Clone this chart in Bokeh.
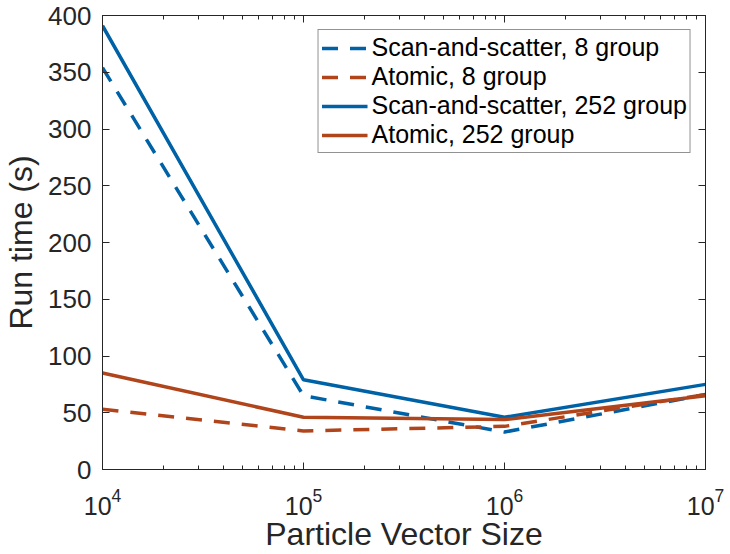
from bokeh.plotting import figure
from bokeh.models import (Range1d, FixedTicker, LogAxis, LinearAxis, Legend,
                          LegendItem, CustomJSTickFormatter)
from bokeh.embed import file_html
from bokeh.resources import INLINE

# ---- data ----
sizes = [1e4, 1e5, 1e6, 1e7]
scan_8 = [354, 65, 33, 66]
atomic_8 = [53, 34, 38, 66]
scan_252 = [391, 79, 46, 75]
atomic_252 = [85, 46, 44, 65]

labels = ["Scan-and-scatter, 8 group", "Atomic, 8 group",
          "Scan-and-scatter, 252 group", "Atomic, 252 group"]

y_ticks = [0, 50, 100, 150, 200, 250, 300, 350, 400]
x_major = [1e4, 1e5, 1e6, 1e7]
x_minor = [m * 10 ** e for e in range(4, 7) for m in range(2, 10)]

BLUE = "#0062A6"
RED = "#B0441A"
AX = "#262626"
FONT = "Liberation Sans"

p = figure(width=730, height=554, x_axis_type="log",
           x_range=Range1d(1e4, 1e7), y_range=Range1d(0, 400),
           output_backend="svg", toolbar_location=None,
           min_border_left=102, min_border_right=25,
           min_border_top=15, min_border_bottom=82)
p.background_fill_color = "white"
p.border_fill_color = "white"
p.outline_line_color = AX
p.outline_line_width = 1
p.xgrid.visible = False
p.ygrid.visible = False


def style(ax):
    ax.axis_line_color = AX
    ax.axis_line_width = 1
    ax.major_tick_line_color = AX
    ax.minor_tick_line_color = AX
    ax.major_tick_in = 7
    ax.major_tick_out = 0
    ax.minor_tick_in = 4
    ax.minor_tick_out = 0
    ax.major_label_text_font = FONT
    ax.major_label_text_color = AX
    ax.major_label_text_font_size = "25px"
    ax.axis_label_text_font = FONT
    ax.axis_label_text_font_style = "normal"
    ax.axis_label_text_color = AX
    ax.axis_label_text_font_size = "32px"


xa = p.xaxis[0]
xa.ticker = FixedTicker(ticks=x_major, minor_ticks=x_minor)
style(xa)
xa.major_label_standoff = 18
xa.axis_label = "Particle Vector Size"
xa.axis_label_standoff = -2

ya = p.yaxis[0]
ya.ticker = FixedTicker(ticks=y_ticks, minor_ticks=[])
style(ya)
ya.major_label_text_font_size = "26px"
ya.major_label_standoff = 11
ya.axis_label = "Run time (s)"
ya.axis_label_standoff = 6

top = LogAxis(ticker=FixedTicker(ticks=x_major, minor_ticks=x_minor),
              formatter=CustomJSTickFormatter(code="return '';"))
style(top)
top.major_label_text_font_size = "2px"
top.major_label_standoff = 0
p.add_layout(top, "above")

right = LinearAxis(ticker=FixedTicker(ticks=y_ticks, minor_ticks=[]),
                   formatter=CustomJSTickFormatter(code="return '';"))
style(right)
right.major_label_text_font_size = "2px"
right.major_label_standoff = 0
p.add_layout(right, "right")

series = [scan_8, atomic_8, scan_252, atomic_252]
colors = [BLUE, RED, BLUE, RED]
dashes = ["16 12", "16 12", "solid", "solid"]
items = []
for vals, c, d, lab in zip(series, colors, dashes, labels):
    r = p.line(sizes, vals, line_color=c, line_width=3.5, line_dash=d)
    items.append(LegendItem(label=lab, renderers=[r]))

legend = Legend(items=items, location="top_right")
legend.margin = 14
legend.padding = 3
legend.spacing = -4
legend.label_height = 24
legend.glyph_height = 24
legend.glyph_width = 46
legend.label_standoff = 4
legend.label_text_font = FONT
legend.label_text_font_size = "25px"
legend.label_text_color = "black"
legend.border_line_color = AX
legend.border_line_width = 1
legend.background_fill_color = "white"
legend.background_fill_alpha = 1
p.add_layout(legend, "center")

open("out.html", "w").write(file_html(p, INLINE))
